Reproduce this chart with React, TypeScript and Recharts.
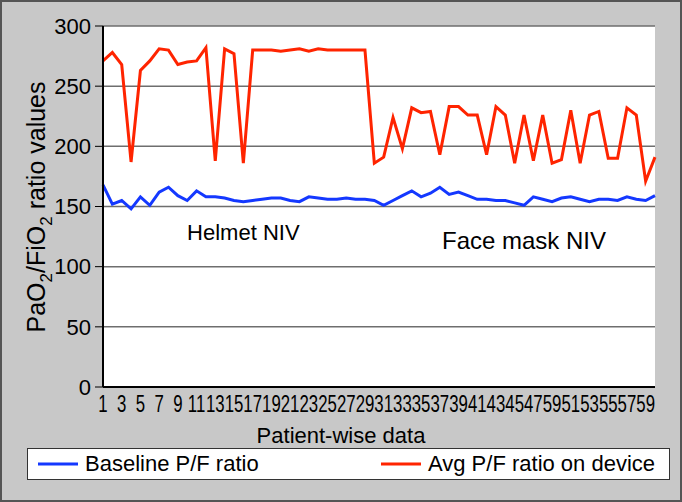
import React from "react";
import {
  CartesianGrid,
  Legend,
  Line,
  LineChart,
  ReferenceDot,
  XAxis,
  YAxis,
} from "recharts";

const patients = [
  1, 2, 3, 4, 5, 6, 7, 8, 9, 10, 11, 12, 13, 14, 15, 16, 17, 18, 19, 20,
  21, 22, 23, 24, 25, 26, 27, 28, 29, 30, 31, 32, 33, 34, 35, 36, 37, 38, 39, 40,
  41, 42, 43, 44, 45, 46, 47, 48, 49, 50, 51, 52, 53, 54, 55, 56, 57, 58, 59, 60,
];

const baseline = [
  168, 152, 155, 148, 158, 151, 162, 166, 159, 155, 163, 158, 158, 157, 155, 154, 155, 156, 157, 157,
  155, 154, 158, 157, 156, 156, 157, 156, 156, 155, 151, 155, 159, 163, 158, 161, 166, 160, 162, 159,
  156, 156, 155, 155, 153, 151, 158, 156, 154, 157, 158, 156, 154, 156, 156, 155, 158, 156, 155, 159,
];

const onDevice = [
  271, 278, 268, 187, 263, 271, 281, 280, 268, 270, 271, 282, 188, 281, 277, 186, 280, 280, 280, 279,
  280, 281, 279, 281, 280, 280, 280, 280, 280, 186, 191, 224, 198, 232, 228, 229, 193, 233, 233, 226,
  226, 193, 233, 226, 186, 226, 188, 226, 186, 189, 230, 186, 226, 229, 190, 190, 232, 226, 171, 191,
];

// labels as printed under the axis (every other patient)
const xTickLabels = [
  "1", "3", "5", "7", "9", "11", "13", "15", "17", "19", "21", "23", "25", "27", "29",
  "31", "33", "35", "37", "39", "41", "43", "45", "47", "59", "51", "53", "55", "57", "59",
];

const yTicks = [0, 50, 100, 150, 200, 250, 300];

const legendOrder = ["baseline", "onDevice"];

const data = patients.map((p, i) => ({
  patient: p,
  baseline: baseline[i],
  onDevice: onDevice[i],
}));

const BLUE = "#1438ff";
const RED = "#ff2400";
const FONT = "'Liberation Sans', Arial, sans-serif";

function XTick(props: any) {
  const { x, y, payload } = props;
  const label = xTickLabels[Math.round((payload.value - 1) / 2)] ?? "";
  return (
    <text
      transform={`translate(${x},${y + 17}) scale(0.7,1)`}
      textAnchor="middle"
      fontSize={24}
      fill="#000"
      fontFamily={FONT}
    >
      {label}
    </text>
  );
}

function YLabel() {
  return (
    <text
      transform="translate(45,207) rotate(-90)"
      textAnchor="middle"
      fontSize={25}
      fill="#000"
      fontFamily={FONT}
    >
      <tspan>PaO</tspan>
      <tspan dy={7} fontSize={17}>2</tspan>
      <tspan dy={-7}>/FiO</tspan>
      <tspan dy={7} fontSize={17}>2</tspan>
      <tspan dy={-7}> ratio values</tspan>
    </text>
  );
}

function XLabel() {
  return (
    <text x={341} y={443} textAnchor="middle" fontSize={22} fill="#000" fontFamily={FONT}>
      Patient-wise data
    </text>
  );
}

function LegendBox(props: any) {
  const items = [...(props.payload || [])].sort(
    (a: any, b: any) => legendOrder.indexOf(a.dataKey) - legendOrder.indexOf(b.dataKey)
  );
  const lefts = [10, 353];
  return (
    <div
      style={{
        position: "relative",
        width: 643,
        height: 32,
        background: "#fff",
        border: "1px solid #333",
        boxSizing: "border-box",
        fontFamily: FONT,
        fontSize: 22,
        color: "#000",
      }}
    >
      {items.map((it: any, i: number) => (
        <div
          key={it.value}
          style={{
            position: "absolute",
            left: lefts[i],
            top: 0,
            height: 30,
            display: "flex",
            alignItems: "center",
            whiteSpace: "nowrap",
          }}
        >
          <svg width={40} height={6} style={{ marginRight: 7 }}>
            <line x1={0} y1={3} x2={40} y2={3} stroke={it.color} strokeWidth={3} />
          </svg>
          <span>{it.value}</span>
        </div>
      ))}
    </div>
  );
}

export default function App() {
  return (
    <div
      style={{
        position: "absolute",
        left: 0,
        top: 0,
        width: 682,
        height: 502,
        background: "#c8c8c8",
        border: "2px solid #555",
        boxSizing: "border-box",
        fontFamily: FONT,
      }}
    >
      <div style={{ position: "absolute", left: -2, top: -2 }}>
        <LineChart
          width={682}
          height={502}
          data={data}
          margin={{ top: 26, right: 27, left: 0, bottom: 0 }}
        >
          <CartesianGrid vertical={false} stroke="#6e6e6e" strokeWidth={1.5} fill="#fff" />
          <XAxis
            dataKey="patient"
            interval={1}
            height={115}
            tickLine={false}
            axisLine={{ stroke: "#000", strokeWidth: 2 }}
            tick={<XTick />}
            label={<XLabel />}
          />
          <XAxis
            xAxisId="top"
            dataKey="patient"
            orientation="top"
            height={0}
            tick={false}
            tickLine={false}
            axisLine={{ stroke: "#000", strokeWidth: 2 }}
          />
          <YAxis
            domain={[0, 300]}
            ticks={yTicks}
            width={103}
            tickSize={8}
            tickMargin={4}
            tickLine={{ stroke: "#000" }}
            axisLine={{ stroke: "#000", strokeWidth: 2 }}
            tick={{ fontSize: 22, fill: "#000", fontFamily: FONT }}
            label={<YLabel />}
          />
          <YAxis
            yAxisId="right"
            orientation="right"
            domain={[0, 300]}
            width={0}
            tick={false}
            tickLine={false}
            axisLine={{ stroke: "#000", strokeWidth: 2 }}
          />
          <Line
            dataKey="baseline"
            name="Baseline P/F ratio"
            stroke={BLUE}
            strokeWidth={3}
            dot={false}
            isAnimationActive={false}
          />
          <Line
            dataKey="onDevice"
            name="Avg P/F ratio on device"
            stroke={RED}
            strokeWidth={3}
            dot={false}
            isAnimationActive={false}
          />
          <ReferenceDot
            x={16}
            y={129}
            r={0}
            stroke="none"
            label={{ value: "Helmet NIV", position: "center", fontSize: 22, fill: "#000", fontFamily: FONT }}
          />
          <ReferenceDot
            x={46}
            y={122}
            r={0}
            stroke="none"
            label={{ value: "Face mask NIV", position: "center", fontSize: 24, fill: "#000", fontFamily: FONT }}
          />
          <Legend
            layout="vertical"
            align="center"
            verticalAlign="middle"
            content={<LegendBox />}
            wrapperStyle={{ left: 27, top: 448, width: 643, height: 32 }}
          />
        </LineChart>
      </div>
    </div>
  );
}
